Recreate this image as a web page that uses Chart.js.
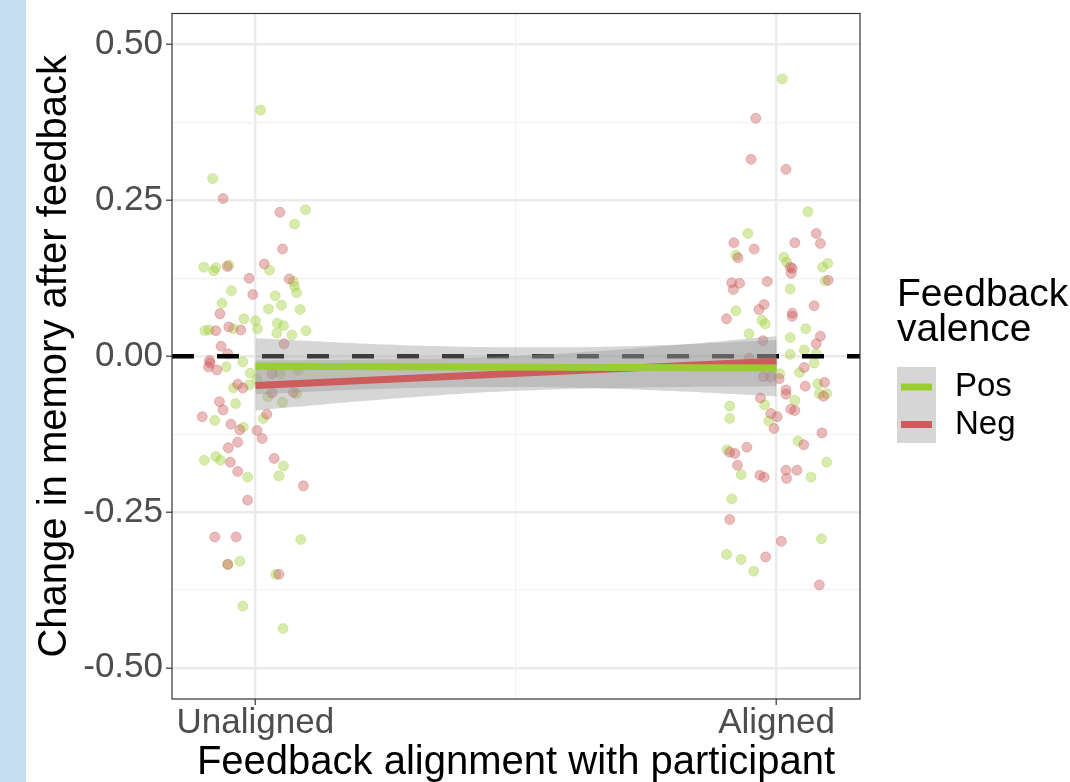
<!DOCTYPE html>
<html>
<head>
<meta charset="utf-8">
<script src="https://cdn.jsdelivr.net/npm/chart.js@4.4.0/dist/chart.umd.min.js"></script>
<style>
html, body { margin: 0; padding: 0; background: #fff; }
#strip { position: absolute; left: 0; top: 0; width: 26px; height: 782px; background: #c6dff2; }
#wrap { position: absolute; left: 0; top: 0; width: 1070px; height: 782px; }
</style>
</head>
<body>
<div id="strip"></div>
<div id="wrap"><canvas id="myChart" width="1070" height="782"></canvas></div>
<script>
// categories on the x axis (placed at 1 and 2)
let categories = ['Unaligned', 'Aligned'];
let catPos = [1, 2];
let xGrid = [1, 1.5, 2];
let yMajor = [-0.5, -0.25, 0, 0.25, 0.5];
let yGrid = [-0.5, -0.375, -0.25, -0.125, 0, 0.125, 0.25, 0.375, 0.5];
let xMin = 0.84, xMax = 2.16;
let yMin = -0.55, yMax = 0.55;
let zeroLine = 0;

// jittered points, positive feedback
let posX = [1.010, 0.918, 1.096, 1.075, 0.901, 0.924, 0.920, 0.949, 1.027, 1.073, 1.075, 1.079, 0.954, 1.038, 1.050, 0.936, 1.025, 1.086, 0.978, 1.000,
            1.004, 0.903, 0.911, 0.958, 1.042, 1.054, 1.041, 1.070, 1.097, 0.976, 0.944, 0.990, 1.003, 0.988, 0.958, 1.048, 1.082, 1.079, 1.024, 1.052,
            0.962, 0.922, 1.015, 0.977, 0.902, 0.924, 0.933, 1.054, 1.045, 0.985, 1.087, 0.970, 0.947, 1.039, 0.976, 1.053,
            2.011, 2.060, 1.945, 1.922, 2.014, 2.019, 2.088, 2.098, 2.093, 2.026, 1.922, 1.972, 1.978, 1.947, 2.056, 2.026, 2.053, 2.026, 2.076, 2.072,
            2.044, 2.006, 2.079, 2.082, 2.096, 2.035, 1.910, 1.977, 1.910, 1.985, 2.041, 1.905, 1.932, 2.066, 2.096, 1.914, 2.086, 1.904, 1.932, 1.956];
let posY = [0.395, 0.285, 0.235, 0.212, 0.143, 0.142, 0.137, 0.146, 0.138, 0.120, 0.112, 0.102, 0.105, 0.097, 0.082, 0.085, 0.076, 0.075, 0.060, 0.057,
            0.044, 0.041, 0.042, 0.044, 0.053, 0.049, 0.037, 0.034, 0.041, -0.009, -0.017, -0.027, -0.037, -0.046, -0.051, -0.028, -0.023, -0.060, -0.065, -0.074,
            -0.076, -0.103, -0.100, -0.114, -0.167, -0.161, -0.167, -0.176, -0.192, -0.194, -0.294, -0.329, -0.334, -0.350, -0.401, -0.437,
            0.445, 0.232, 0.197, 0.162, 0.159, 0.151, 0.143, 0.149, 0.121, 0.108, 0.073, 0.058, 0.052, 0.036, 0.044, 0.030, 0.010, 0.003, 0.004, -0.011,
            -0.026, -0.028, -0.044, -0.060, -0.060, -0.071, -0.080, -0.078, -0.100, -0.104, -0.136, -0.150, -0.190, -0.194, -0.170, -0.229, -0.293, -0.318, -0.326, -0.345];

// jittered points, negative feedback
let negX = [0.938, 1.047, 1.052, 1.017, 0.946, 0.988, 1.065, 0.995, 0.932, 0.949, 0.924, 0.972, 1.055, 0.934, 0.947, 0.912, 0.913, 0.910, 0.926, 1.032,
            0.966, 0.976, 1.032, 1.073, 0.931, 0.938, 0.898, 1.022, 0.953, 0.970, 1.003, 1.013, 0.966, 0.948, 1.036, 0.952, 0.966, 1.092, 0.985, 0.922,
            0.963, 0.947, 1.045,
            1.960, 1.951, 2.018, 2.076, 2.035, 2.084, 1.918, 1.957, 1.926, 2.026, 2.030, 2.028, 1.914, 1.929, 1.917, 1.982, 2.099, 1.976, 1.966, 1.904,
            2.072, 2.030, 2.030, 2.084, 2.076, 1.974, 1.947, 2.053, 1.975, 1.988, 2.005, 2.055, 2.092, 2.090, 2.018, 2.018, 1.969, 2.027, 2.035, 1.989,
            2.001, 1.995, 2.087, 2.052, 1.943, 1.910, 1.920, 1.925, 1.968, 1.976, 2.018, 2.019, 2.039, 1.910, 2.009, 1.979, 2.082];
let negY = [0.253, 0.231, 0.172, 0.148, 0.144, 0.125, 0.124, 0.099, 0.068, 0.047, 0.041, 0.042, 0.020, 0.016, 0.004, -0.007, -0.011, -0.017, -0.022, -0.028,
            -0.045, -0.051, -0.059, -0.058, -0.073, -0.086, -0.097, -0.093, -0.109, -0.118, -0.119, -0.132, -0.138, -0.147, -0.164, -0.170, -0.185, -0.208, -0.231, -0.290,
            -0.290, -0.334, -0.350,
            0.382, 0.316, 0.300, 0.197, 0.182, 0.181, 0.182, 0.172, 0.158, 0.143, 0.141, 0.133, 0.118, 0.117, 0.107, 0.120, 0.122, 0.083, 0.075, 0.060,
            0.081, 0.069, 0.064, 0.032, 0.020, 0.025, -0.003, -0.018, -0.033, -0.033, -0.036, -0.048, -0.042, -0.064, -0.054, -0.061, -0.067, -0.085, -0.087, -0.092,
            -0.097, -0.116, -0.123, -0.142, -0.146, -0.154, -0.156, -0.175, -0.191, -0.194, -0.183, -0.196, -0.183, -0.262, -0.297, -0.322, -0.367];

// fitted lines and confidence bands
let trendX = [1, 2];
let posFit = [-0.016, -0.019];
let negFit = [-0.047, -0.008];
let bandX = [1, 1.25, 1.5, 1.75, 2];
let posUpper = [0.029, 0.019, 0.0145, 0.017, 0.026];
let posLower = [-0.061, -0.052, -0.0495, -0.054, -0.064];
let negUpper = [-0.007, -0.005, 0.0005, 0.014, 0.032];
let negLower = [-0.087, -0.069, -0.0555, -0.050, -0.048];

const FONT = '"Liberation Sans", Arial, Helvetica, sans-serif';
const GREEN = '#9acd32';
const RED = '#cd5c5c';
const BAND = 'rgba(153,153,153,0.4)';

function pts(xs, ys) {
    return xs.map((x, i) => ({x: x, y: ys[i]}));
}

function band(upper, lower, ord) {
    return [{
        label: 'band', data: pts(bandX, upper), showLine: true, fill: '+1',
        backgroundColor: BAND, borderWidth: 0, pointRadius: 0, tension: 0.4, order: ord
    }, {
        label: 'band', data: pts(bandX, lower), showLine: true, fill: false,
        borderWidth: 0, pointRadius: 0, tension: 0.4, order: ord
    }];
}

const panelBorder = {
    id: 'panelBorder',
    afterDatasetsDraw(chart) {
        const a = chart.chartArea, ctx = chart.ctx;
        ctx.save();
        ctx.strokeStyle = '#333333';
        ctx.lineWidth = 1.2;
        ctx.strokeRect(a.left, a.top, a.right - a.left, a.bottom - a.top);
        ctx.restore();
    }
};

const sideLegend = {
    id: 'sideLegend',
    afterDraw(chart) {
        const ctx = chart.ctx;
        ctx.save();
        ctx.fillStyle = '#000';
        ctx.font = '39px ' + FONT;
        ctx.textBaseline = 'alphabetic';
        ctx.fillText('Feedback', 897, 306);
        ctx.fillText('valence', 897, 341);
        ctx.fillStyle = '#d6d6d6';
        ctx.fillRect(897, 367, 39, 76);
        const fits = chart.data.datasets.filter(d => d.isFit);
        fits.forEach((d, i) => {
            const cy = 387 + i * 37.5;
            ctx.strokeStyle = d.borderColor;
            ctx.lineWidth = 7;
            ctx.beginPath();
            ctx.moveTo(901, cy);
            ctx.lineTo(932, cy);
            ctx.stroke();
            ctx.fillStyle = '#000';
            ctx.font = '33px ' + FONT;
            ctx.textBaseline = 'middle';
            ctx.fillText(d.label, 955, cy);
        });
        ctx.restore();
    }
};

const datasets = [
    {label: 'PosPts', data: pts(posX, posY), pointRadius: 5, pointHoverRadius: 5,
     backgroundColor: 'rgba(154,205,50,0.4)', borderColor: 'rgba(154,205,50,0.3)', borderWidth: 1, order: 10},
    {label: 'NegPts', data: pts(negX, negY), pointRadius: 5, pointHoverRadius: 5,
     backgroundColor: 'rgba(205,92,92,0.42)', borderColor: 'rgba(205,92,92,0.35)', borderWidth: 1, order: 9},
    {label: 'zero', data: [{x: xMin, y: zeroLine}, {x: xMax, y: zeroLine}], showLine: true,
     borderColor: '#000', borderWidth: 4.5, borderDash: [22, 23], pointRadius: 0, order: 8}
].concat(band(posUpper, posLower, 6), band(negUpper, negLower, 6), [
    {label: 'Pos', isFit: true, data: pts(trendX, posFit), showLine: true, borderColor: GREEN,
     borderWidth: 7, pointRadius: 0, order: 1},
    {label: 'Neg', isFit: true, data: pts(trendX, negFit), showLine: true, borderColor: RED,
     borderWidth: 7, pointRadius: 0, order: 2}
]);

const config = {
    type: 'scatter',
    data: {datasets: datasets},
    options: {
        responsive: false,
        animation: false,
        devicePixelRatio: 1,
        layout: {padding: {left: 26, top: 13, right: 210, bottom: 0}},
        plugins: {legend: {display: false}, tooltip: {enabled: false}},
        scales: {
            x: {
                type: 'linear', position: 'bottom', min: xMin, max: xMax,
                afterBuildTicks: s => { s.ticks = xGrid.map(v => ({value: v})); },
                afterFit: s => { s.height = 83; },
                ticks: {
                    autoSkip: false, maxRotation: 0, padding: 1, color: '#4d4d4d',
                    font: {size: 35, family: FONT, lineHeight: 1.0},
                    callback: v => { const i = catPos.indexOf(v); return i >= 0 ? categories[i] : ''; }
                },
                grid: {
                    color: c => catPos.includes(c.tick.value) ? '#ebebeb' : '#f2f2f2',
                    lineWidth: c => catPos.includes(c.tick.value) ? 2.4 : 1.2,
                    tickColor: c => catPos.includes(c.tick.value) ? '#333333' : 'rgba(0,0,0,0)',
                    tickLength: 6, tickWidth: 1.2
                },
                border: {display: false},
                title: {display: true, text: 'Feedback alignment with participant', color: '#000',
                        font: {size: 40, family: FONT, lineHeight: 0.95}, padding: {top: 0, bottom: 0}}
            },
            y: {
                min: yMin, max: yMax,
                afterBuildTicks: s => { s.ticks = yGrid.map(v => ({value: v})); },
                afterFit: s => { s.width = 146; },
                ticks: {
                    autoSkip: false, padding: 3, color: '#4d4d4d',
                    font: {size: 35, family: FONT, lineHeight: 0.6},
                    callback: v => yMajor.includes(v) ? v.toFixed(2) : ''
                },
                grid: {
                    color: c => yMajor.includes(c.tick.value) ? '#ebebeb' : '#f2f2f2',
                    lineWidth: c => yMajor.includes(c.tick.value) ? 2.4 : 1.2,
                    tickColor: c => yMajor.includes(c.tick.value) ? '#333333' : 'rgba(0,0,0,0)',
                    tickLength: 6, tickWidth: 1.2
                },
                border: {display: false},
                title: {display: true, text: 'Change in memory after feedback', color: '#000',
                        font: {size: 40, family: FONT}, padding: {top: 5, bottom: 0}}
            }
        }
    },
    plugins: [panelBorder, sideLegend]
};

var myChart = new Chart(document.getElementById('myChart'), config);
</script>
</body>
</html>
